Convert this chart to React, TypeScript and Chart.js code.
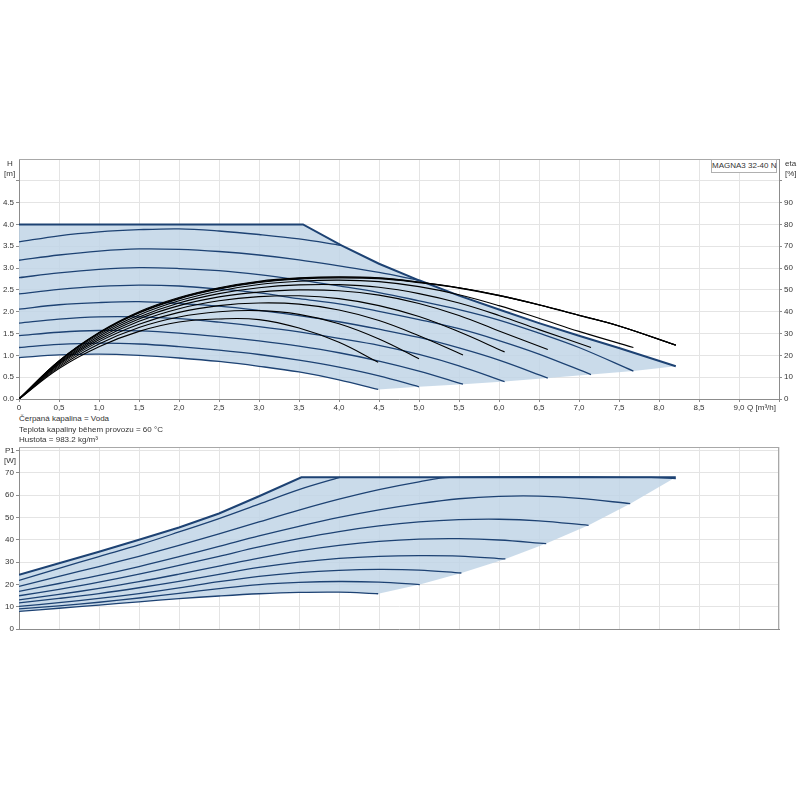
import React, { useEffect, useRef } from 'react';
import { Chart, registerables } from 'chart.js';
Chart.register(...registerables);

type P = [number, number];

// ---------- Axis ticks ----------
const X_TICKS = [0, 0.5, 1, 1.5, 2, 2.5, 3, 3.5, 4, 4.5, 5, 5.5, 6, 6.5, 7, 7.5, 8, 8.5, 9, 9.5];
const H_TICKS = [0, 0.5, 1, 1.5, 2, 2.5, 3, 3.5, 4, 4.5, 5];
const ETA_TICKS = [0, 10, 20, 30, 40, 50, 60, 70, 80, 90, 100];
const P_TICKS = [0, 10, 20, 30, 40, 50, 60, 70, 80];

// ---------- QH curves (Q [m3/h], H [m]) ----------
const H_MAX: P[] = [[0, 4.0], [3.55, 4.0], [4.03, 3.52], [4.5, 3.10], [5.0, 2.72], [5.5, 2.37], [6.0, 2.05], [6.5, 1.74], [7.0, 1.45], [7.5, 1.17], [8.21, 0.75]];
const H_C9: P[] = [[0, 3.60], [0.5, 3.74], [1, 3.83], [1.5, 3.88], [2, 3.90], [2.5, 3.85], [3, 3.77], [3.5, 3.67], [4.03, 3.52]];
const H_C8: P[] = [[0, 3.18], [0.5, 3.30], [1, 3.39], [1.5, 3.44], [2, 3.43], [2.5, 3.38], [3, 3.30], [3.5, 3.19], [4, 3.05], [4.5, 2.90], [5.0, 2.72]];
const H_C7: P[] = [[0, 2.78], [0.5, 2.89], [1, 2.97], [1.5, 3.01], [2, 2.99], [2.5, 2.94], [3, 2.85], [3.5, 2.73], [4, 2.59], [4.5, 2.44], [5, 2.25], [5.5, 2.05], [6, 1.81], [6.5, 1.51], [7, 1.18], [7.68, 0.64]];
const H_C6: P[] = [[0, 2.41], [0.5, 2.51], [1, 2.58], [1.5, 2.61], [2, 2.59], [2.5, 2.52], [3, 2.43], [3.5, 2.30], [4, 2.18], [4.5, 2.01], [5, 1.82], [5.5, 1.61], [6, 1.34], [6.5, 1.03], [7.15, 0.56]];
const H_C5: P[] = [[0, 2.06], [0.5, 2.16], [1, 2.21], [1.5, 2.23], [2, 2.19], [2.5, 2.13], [3, 2.03], [3.5, 1.91], [4, 1.77], [4.5, 1.60], [5, 1.41], [5.5, 1.17], [6, 0.89], [6.61, 0.48]];
const H_C4: P[] = [[0, 1.74], [0.5, 1.83], [1, 1.88], [1.5, 1.88], [2, 1.84], [2.5, 1.76], [3, 1.66], [3.5, 1.54], [4, 1.39], [4.5, 1.23], [5, 1.02], [5.5, 0.76], [6.07, 0.40]];
const H_C3: P[] = [[0, 1.45], [0.5, 1.53], [1, 1.57], [1.5, 1.56], [2, 1.51], [2.5, 1.43], [3, 1.33], [3.5, 1.21], [4, 1.06], [4.5, 0.87], [5, 0.64], [5.55, 0.34]];
const H_C2: P[] = [[0, 1.18], [0.5, 1.25], [1, 1.28], [1.5, 1.26], [2, 1.20], [2.5, 1.12], [3, 1.02], [3.5, 0.89], [4, 0.73], [4.5, 0.53], [5.0, 0.28]];
const H_C1: P[] = [[0, 0.95], [0.5, 1.01], [1, 1.03], [1.5, 1.00], [2, 0.94], [2.5, 0.86], [3, 0.75], [3.5, 0.62], [4, 0.44], [4.49, 0.22]];
const H_LOWER_EDGE: P[] = [[4.49, 0.22], [5.0, 0.28], [5.55, 0.34], [6.07, 0.40], [6.61, 0.48], [7.15, 0.56], [7.68, 0.64], [8.21, 0.75]];

// ---------- Efficiency curves (Q [m3/h], eta [%]) ----------
const E_MAX: P[] = [[0, 0], [0.5, 17.5], [1, 30.5], [1.5, 40], [2, 46.5], [2.5, 51], [3, 54], [3.5, 55.5], [4, 56], [4.5, 55.5], [5, 53.6], [5.5, 51], [6, 47.5], [6.5, 43.2], [7, 38.4], [7.5, 33.5], [8.21, 24.7]];
const E_C9: P[] = [[0, 0], [0.5, 17.4], [1, 30.3], [1.5, 39.7], [2, 46.2], [2.5, 50.7], [3, 53.7], [3.5, 55.3], [4, 55.8], [4.5, 55.4], [5, 53.5], [5.5, 51], [6, 47.5], [6.5, 43.2], [7, 38.4], [7.5, 33.5], [8.21, 24.7]];
const E_C8: P[] = [[0, 0], [0.5, 17.3], [1, 30.1], [1.5, 39.4], [2, 45.9], [2.5, 50.4], [3, 53.4], [3.5, 55], [4, 55.5], [4.5, 55.1], [5, 53.3], [5.5, 50.8], [6, 47.3], [6.5, 43.1], [7, 38.3], [7.5, 33.5], [8.21, 24.7]];
const E_C7: P[] = [[0, 0], [0.5, 17], [1, 29.5], [1.5, 38.5], [2, 45], [2.5, 49.5], [3, 52.5], [3.5, 54], [4, 54.5], [4.5, 53.8], [5, 51.5], [5.5, 47.8], [6, 42.8], [6.5, 37], [7, 31], [7.68, 23.6]];
const E_C6: P[] = [[0, 0], [0.5, 16.6], [1, 28.8], [1.5, 37.6], [2, 44.0], [2.5, 48.3], [3, 51.0], [3.5, 52.3], [4, 52.4], [4.5, 51.2], [5, 48.3], [5.5, 44], [6, 38.3], [6.5, 31.8], [7.15, 23.6]];
const E_C5: P[] = [[0, 0], [0.5, 16.2], [1, 28.0], [1.5, 36.7], [2, 42.8], [2.5, 46.8], [3, 49.0], [3.5, 50.0], [4, 49.6], [4.5, 47.6], [5, 43.8], [5.5, 38.3], [6, 31.2], [6.61, 22.7]];
const E_C4: P[] = [[0, 0], [0.5, 15.8], [1, 27.2], [1.5, 35.6], [2, 41.4], [2.5, 45.0], [3, 46.9], [3.5, 47.3], [4, 46], [4.5, 42.8], [5, 37.8], [5.5, 30.8], [6.07, 21.6]];
const E_C3: P[] = [[0, 0], [0.5, 15.2], [1, 26.3], [1.5, 34.3], [2, 39.7], [2.5, 42.8], [3, 44.0], [3.5, 43.5], [4, 40.8], [4.5, 36], [5, 29], [5.55, 20.2]];
const E_C2: P[] = [[0, 0], [0.5, 14.6], [1, 25.2], [1.5, 32.8], [2, 37.6], [2.5, 40.0], [3, 40.5], [3.5, 38.8], [4, 34.5], [4.5, 27.5], [5.0, 18.5]];
const E_C1: P[] = [[0, 0], [0.5, 14], [1, 24], [1.5, 31], [2, 35.3], [2.5, 36.7], [3, 36.4], [3.5, 32.5], [4, 26], [4.49, 16.8]];

// ---------- Power curves (Q [m3/h], P1 [W]) ----------
const P_MAX: P[] = [[0, 24.3], [0.5, 29.5], [1, 34.6], [1.5, 40], [2, 45.5], [2.5, 51.8], [3, 59.5], [3.53, 68], [8.21, 68]];
const P_C9: P[] = [[0, 21.8], [0.5, 27.2], [1, 32.5], [1.5, 37.7], [2, 43.5], [2.5, 49.5], [3, 56], [3.5, 62.5], [4.01, 68]];
const P_C8: P[] = [[0, 19.1], [0.5, 23.6], [1, 28], [1.5, 32.6], [2, 37.5], [2.5, 42.6], [3, 48], [3.5, 53.3], [4, 58.2], [4.5, 62.5], [5, 66], [5.39, 68], [7.9, 68], [8.21, 67.4]];
const P_C7: P[] = [[0, 16.9], [0.5, 20.4], [1, 24], [1.5, 28], [2, 32.4], [2.5, 37], [3, 41.7], [3.5, 46], [4, 50], [4.5, 53.4], [5, 56.2], [5.5, 58.4], [6, 59.5], [6.5, 59.6], [7, 58.6], [7.64, 56.2]];
const P_C6: P[] = [[0, 14.9], [0.5, 17.8], [1, 21], [1.5, 24.6], [2, 28.5], [2.5, 32.6], [3, 36.8], [3.5, 40.5], [4, 43.7], [4.5, 46.2], [5, 48], [5.5, 49], [6, 49.2], [6.5, 48.5], [7.12, 46.5]];
const P_C5: P[] = [[0, 13.1], [0.5, 15.5], [1, 18.2], [1.5, 21.2], [2, 24.6], [2.5, 28.2], [3, 31.8], [3.5, 35], [4, 37.5], [4.5, 39.3], [5, 40.3], [5.5, 40.5], [6, 39.9], [6.59, 38.3]];
const P_C4: P[] = [[0, 11.7], [0.5, 13.7], [1, 15.9], [1.5, 18.5], [2, 21.4], [2.5, 24.5], [3, 27.6], [3.5, 30], [4, 31.7], [4.5, 32.6], [5, 32.9], [5.5, 32.7], [6.08, 31.4]];
const P_C3: P[] = [[0, 10.1], [0.5, 11.8], [1, 13.7], [1.5, 15.9], [2, 18.4], [2.5, 21.2], [3, 23.6], [3.5, 25.3], [4, 26.3], [4.5, 26.7], [5, 26.4], [5.53, 25.1]];
const P_C2: P[] = [[0, 9], [0.5, 10.4], [1, 12], [1.5, 13.9], [2, 16], [2.5, 18.1], [3, 19.9], [3.5, 20.9], [4, 21.3], [4.5, 21], [5.01, 19.9]];
const P_C1: P[] = [[0, 7.9], [0.5, 9.3], [1, 10.7], [1.5, 12.2], [2, 13.6], [2.5, 14.8], [3, 15.8], [3.5, 16.4], [4, 16.5], [4.49, 15.8]];
const P_LOWER_EDGE: P[] = [[4.49, 15.8], [5.01, 19.9], [5.53, 25.1], [6.08, 31.4], [6.59, 38.3], [7.12, 46.5], [7.64, 56.2], [8.21, 68]];

// ---------- Texts ----------
const MODEL = 'MAGNA3 32-40 N';
const INFO_LINES = ['Čerpaná kapalina = Voda', 'Teplota kapaliny během provozu = 60 °C', 'Hustota = 983.2 kg/m³'];

// ---------- Styles ----------
const FONT = '"Liberation Sans", Arial, sans-serif';
const BLUE = '#1d4273';
const FILL = 'rgba(193, 213, 230, 0.85)';
const GRID = '#e4e4e4';
const AXIS = '#8c8c8c';
const TXT = '#333';

const toXY = (a: P[]) => a.map(([x, y]) => ({ x, y }));
const rev = (a: P[]) => a.slice().reverse();

const framePlugin = {
  id: 'frame',
  afterDraw(chart: any, _args: any, opts: any) {
    const { ctx, chartArea: a } = chart;
    ctx.save();
    ctx.strokeStyle = opts.color || '#aaa';
    ctx.lineWidth = 1;
    ctx.beginPath();
    ctx.moveTo(a.left, a.top + 0.5);
    ctx.lineTo(a.right, a.top + 0.5);
    if (opts.right) {
      ctx.moveTo(a.right - 0.5, a.top);
      ctx.lineTo(a.right - 0.5, a.bottom);
    }
    ctx.stroke();
    ctx.restore();
  },
};

const line = (d: P[], color: string, width: number, tension: number, order: number, yAxisID = 'y') => ({
  data: toXY(d),
  showLine: true,
  borderColor: color,
  borderWidth: width,
  pointRadius: 0,
  tension,
  fill: false,
  order,
  yAxisID,
});

const xScale = (labels: boolean, h: number) => ({
  type: 'linear',
  min: 0,
  max: 9.5,
  afterBuildTicks: (s: any) => { s.ticks = X_TICKS.map((v) => ({ value: v })); },
  afterFit: (s: any) => { s.height = h; },
  ticks: {
    display: labels,
    autoSkip: false,
    maxRotation: 0,
    padding: 1,
    color: TXT,
    font: { family: FONT, size: 8 },
    callback: (v: number) => (v === 9.5 ? '' : v === 0 ? '0' : v.toFixed(1).replace('.', ',')),
  },
  grid: { color: GRID, tickLength: 3, tickColor: AXIS, drawTicks: labels },
  border: { color: AXIS },
});

function TopChart() {
  const ref = useRef<HTMLCanvasElement>(null);
  useEffect(() => {
    const area: P[] = [...H_MAX, ...rev(H_LOWER_EDGE), ...rev(H_C1)];
    const heads = [H_C9, H_C8, H_C7, H_C6, H_C5, H_C4, H_C3, H_C2, H_C1];
    const etas = [E_MAX, E_C9, E_C8, E_C7, E_C6, E_C5, E_C4, E_C3, E_C2, E_C1];
    const chart = new Chart(ref.current!, {
      type: 'scatter',
      data: {
        datasets: [
          { data: toXY(area), showLine: true, fill: 'shape', backgroundColor: FILL, borderWidth: 0, pointRadius: 0, tension: 0, order: 10 } as any,
          ...heads.map((d) => line(d, BLUE, 1.3, 0.35, 3)),
          line(H_MAX, BLUE, 2, 0, 3),
          ...etas.map((d) => line(d, '#000', 1.1, 0.4, 1, 'y1')),
        ],
      },
      options: {
        animation: false,
        responsive: false,
        events: [],
        layout: { padding: { top: 9, left: 0, right: 0, bottom: 0 } },
        plugins: { legend: { display: false }, tooltip: { enabled: false }, frame: { color: '#a8a8a8' } } as any,
        scales: {
          x: xScale(true, 13) as any,
          y: {
            type: 'linear', position: 'left', min: 0, max: 5.5,
            afterBuildTicks: (s: any) => { s.ticks = H_TICKS.map((v) => ({ value: v })); },
            afterFit: (s: any) => { s.width = 19; },
            ticks: { padding: 2, color: TXT, font: { family: FONT, size: 8 }, callback: (v: number) => (v >= 5 ? '' : v.toFixed(1)) },
            grid: { color: GRID, tickLength: 3, tickColor: AXIS },
            border: { color: AXIS },
          } as any,
          y1: {
            type: 'linear', position: 'right', min: 0, max: 110,
            afterBuildTicks: (s: any) => { s.ticks = ETA_TICKS.map((v) => ({ value: v })); },
            afterFit: (s: any) => { s.width = 21; },
            ticks: { padding: 2, color: TXT, font: { family: FONT, size: 8 }, callback: (v: number) => (v >= 100 ? '' : String(v)) },
            grid: { drawOnChartArea: false, tickLength: 3, tickColor: AXIS },
            border: { color: AXIS },
          } as any,
        },
      },
      plugins: [framePlugin],
    });
    return () => chart.destroy();
  }, []);
  return <canvas ref={ref} width={800} height={262} style={{ position: 'absolute', left: 0, top: 150 }} />;
}

function BottomChart() {
  const ref = useRef<HTMLCanvasElement>(null);
  useEffect(() => {
    const area: P[] = [...P_MAX, ...rev(P_LOWER_EDGE), ...rev(P_C1)];
    const curves = [P_C9, P_C8, P_C7, P_C6, P_C5, P_C4, P_C3, P_C2, P_C1];
    const chart = new Chart(ref.current!, {
      type: 'scatter',
      data: {
        datasets: [
          { data: toXY(area), showLine: true, fill: 'shape', backgroundColor: FILL, borderWidth: 0, pointRadius: 0, tension: 0, order: 10 } as any,
          ...curves.map((d) => line(d, BLUE, 1.3, 0.35, 3)),
          line(P_MAX, BLUE, 2, 0, 2),
        ],
      },
      options: {
        animation: false,
        responsive: false,
        events: [],
        layout: { padding: { top: 7, left: 0, right: 21, bottom: 0 } },
        plugins: { legend: { display: false }, tooltip: { enabled: false }, frame: { color: '#a8a8a8', right: true } } as any,
        scales: {
          x: xScale(false, 11) as any,
          y: {
            type: 'linear', position: 'left', min: 0, max: 81.6,
            afterBuildTicks: (s: any) => { s.ticks = P_TICKS.map((v) => ({ value: v })); },
            afterFit: (s: any) => { s.width = 19; },
            ticks: { padding: 2, color: TXT, font: { family: FONT, size: 8 }, callback: (v: number) => (v >= 80 ? '' : String(v)) },
            grid: { color: GRID, tickLength: 3, tickColor: AXIS },
            border: { color: AXIS },
          } as any,
        },
      },
      plugins: [framePlugin],
    });
    return () => chart.destroy();
  }, []);
  return <canvas ref={ref} width={800} height={200} style={{ position: 'absolute', left: 0, top: 440 }} />;
}

const lbl = (text: string, left: number, top: number, extra: any = {}) => (
  <div style={{ position: 'absolute', left, top, fontSize: 8, lineHeight: '9px', color: TXT, fontFamily: FONT, whiteSpace: 'nowrap', ...extra }}>{text}</div>
);

export default function App() {
  return (
    <div style={{ position: 'absolute', left: 0, top: 0, width: 800, height: 800, background: '#fff', overflow: 'hidden' }}>
      <TopChart />
      <BottomChart />
      {lbl('H', 7, 159)}
      {lbl('[m]', 4, 169)}
      {lbl('eta', 785, 159)}
      {lbl('[%]', 785, 169)}
      {lbl('Q [m³/h]', 700, 403, { width: 76, textAlign: 'right' })}
      {lbl('P1', 5, 446)}
      {lbl('[W]', 4, 456)}
      <div style={{ position: 'absolute', left: 711, top: 159, width: 64, height: 12, border: '1px solid #b0b0b0', background: '#fff', fontFamily: FONT, fontSize: 8, lineHeight: '12px', textAlign: 'center', color: TXT, whiteSpace: 'nowrap' }}>{MODEL}</div>
      {INFO_LINES.map((t, i) => (
        <div key={i} style={{ position: 'absolute', left: 19, top: 414 + i * 10.5, fontSize: 8, lineHeight: '9px', color: TXT, fontFamily: FONT, whiteSpace: 'nowrap' }}>{t}</div>
      ))}
    </div>
  );
}
